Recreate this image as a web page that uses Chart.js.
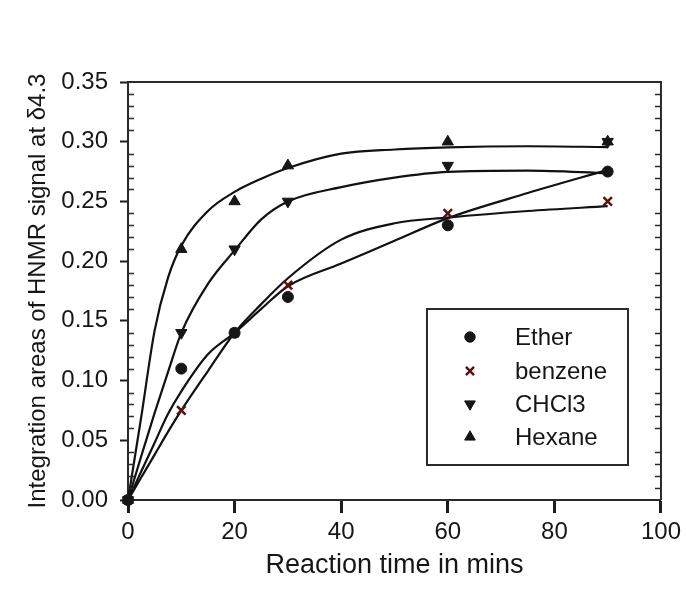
<!DOCTYPE html>
<html>
<head>
<meta charset="utf-8">
<script src="https://cdn.jsdelivr.net/npm/chart.js@4.4.0/dist/chart.umd.min.js"></script>
<style>
  html, body { margin: 0; padding: 0; background: #fff; }
  #wrap { width: 686px; height: 603px; position: relative; }
</style>
</head>
<body>
<div id="wrap"><canvas id="chart"></canvas></div>
<script>
// measured points
const times = [0, 10, 20, 30, 60, 90];
const ether = [0, 0.11, 0.14, 0.17, 0.23, 0.275];
const benzene = [0, 0.075, 0.14, 0.18, 0.24, 0.25];
const chcl3 = [0, 0.14, 0.21, 0.25, 0.28, 0.30];
const hexane = [0, 0.21, 0.25, 0.28, 0.30, 0.30];

// fitted curves
const curveT = [0, 2.5, 5, 7.5, 10, 15, 20, 25, 30, 40, 50, 60, 75, 90];
const etherFit = [0, 0.024, 0.048, 0.072, 0.091, 0.122, 0.140, 0.160, 0.179, 0.198, 0.217, 0.236, 0.257, 0.2764];
const benzeneFit = [0, 0.019, 0.038, 0.057, 0.075, 0.108, 0.140, 0.164, 0.1857, 0.218, 0.2317, 0.2365, 0.242, 0.246];
const chcl3Fit = [0, 0.037, 0.073, 0.107, 0.140, 0.181, 0.209, 0.235, 0.250, 0.262, 0.270, 0.2748, 0.2758, 0.2736];
const hexaneFit = [0, 0.07, 0.142, 0.186, 0.213, 0.242, 0.258, 0.269, 0.278, 0.290, 0.2935, 0.2953, 0.2962, 0.2955];

const labels = ['Ether', 'benzene', 'CHCl3', 'Hexane'];
const xTicks = [0, 20, 40, 60, 80, 100];
const yTicks = [0, 0.05, 0.10, 0.15, 0.20, 0.25, 0.30, 0.35];
const yMinor = [0.01, 0.02, 0.03, 0.04, 0.06, 0.07, 0.08, 0.09, 0.11, 0.12, 0.13, 0.14,
  0.16, 0.17, 0.18, 0.19, 0.21, 0.22, 0.23, 0.24, 0.26, 0.27, 0.28, 0.29, 0.31, 0.32, 0.33, 0.34];

const ink = '#161616';
const FONT = "'Liberation Sans', Arial, sans-serif";

const pts = (xs, ys) => xs.map((x, i) => ({ x: x, y: ys[i] }));

const markers = [
  { pointStyle: 'circle', radius: 5.5, rotation: 0, bg: ink, border: ink, bw: 1 },
  { pointStyle: 'crossRot', radius: 6, rotation: 0, bg: '#5c1010', border: '#5c1010', bw: 2.5 },
  { pointStyle: 'triangle', radius: 6.5, rotation: 180, bg: ink, border: ink, bw: 1 },
  { pointStyle: 'triangle', radius: 6.5, rotation: 0, bg: ink, border: ink, bw: 1 }
];

function curve(ys) {
  return {
    data: pts(curveT, ys),
    borderColor: '#111',
    borderWidth: 2.2,
    pointRadius: 0,
    cubicInterpolationMode: 'monotone',
    fill: false,
    order: 2
  };
}

function scatter(ys, m, label) {
  return {
    label: label,
    data: pts(times, ys),
    showLine: false,
    pointStyle: m.pointStyle,
    pointRadius: m.radius,
    pointRotation: m.rotation,
    pointBackgroundColor: m.bg,
    pointBorderColor: m.border,
    pointBorderWidth: m.bw,
    clip: false,
    order: 1
  };
}

// frame: top/right lines and minor ticks pointing inward
const framePlugin = {
  id: 'frame',
  afterDraw(chart) {
    const { ctx, chartArea: a, scales } = chart;
    ctx.save();
    ctx.strokeStyle = '#2a2a2a';
    ctx.lineWidth = 2;
    ctx.beginPath();
    ctx.moveTo(a.left, a.top);
    ctx.lineTo(a.right, a.top);
    ctx.lineTo(a.right, a.bottom);
    ctx.stroke();
    ctx.lineWidth = 1.6;
    ctx.beginPath();
    yMinor.forEach(v => {
      const y = Math.round(scales.y.getPixelForValue(v)) + 0.5;
      ctx.moveTo(a.left, y); ctx.lineTo(a.left + 6, y);
      ctx.moveTo(a.right, y); ctx.lineTo(a.right - 6, y);
    });
    ctx.stroke();
    ctx.restore();
  }
};

// boxed legend in lower right of the plot
const boxLegend = {
  id: 'boxLegend',
  afterDraw(chart) {
    const { ctx, chartArea: a } = chart;
    const w = 201, h = 156;
    const x0 = a.right - 33 - w, y0 = a.bottom - 35 - h;
    ctx.save();
    ctx.strokeStyle = '#2a2a2a';
    ctx.lineWidth = 2;
    ctx.strokeRect(x0, y0, w, h);
    ctx.font = '24px ' + FONT;
    ctx.textBaseline = 'middle';
    const rows = [28, 62, 95, 128];
    labels.forEach((lab, i) => {
      const m = markers[i];
      const y = y0 + rows[i];
      ctx.fillStyle = m.bg;
      ctx.strokeStyle = m.border;
      ctx.lineWidth = m.bw;
      Chart.helpers.drawPoint(ctx, { pointStyle: m.pointStyle, radius: m.radius * 0.95, rotation: m.rotation, borderWidth: m.bw }, x0 + 43, y);
      ctx.fillStyle = ink;
      ctx.fillText(lab, x0 + 88, y + 1);
    });
    ctx.restore();
  }
};

new Chart(document.getElementById('chart'), {
  type: 'line',
  data: {
    datasets: [
      scatter(ether, markers[0], labels[0]),
      scatter(benzene, markers[1], labels[1]),
      scatter(chcl3, markers[2], labels[2]),
      scatter(hexane, markers[3], labels[3]),
      curve(etherFit),
      curve(benzeneFit),
      curve(chcl3Fit),
      curve(hexaneFit)
    ]
  },
  options: {
    responsive: true,
    maintainAspectRatio: false,
    animation: false,
    layout: { padding: { top: 82, right: 23, left: 0, bottom: 0 } },
    plugins: {
      legend: { display: false },
      tooltip: { enabled: false }
    },
    scales: {
      x: {
        type: 'linear',
        min: 0,
        max: 100,
        afterBuildTicks: s => { s.ticks = xTicks.map(v => ({ value: v })); },
        afterFit: s => { s.height = 103; },
        border: { display: true, color: '#2a2a2a', width: 2 },
        grid: { drawOnChartArea: false, drawTicks: true, tickLength: 13, tickWidth: 3, tickColor: '#1c1c1c' },
        ticks: { color: ink, font: { family: FONT, size: 24 }, padding: 5, maxRotation: 0 },
        title: { display: true, text: 'Reaction time in mins', color: ink, font: { family: FONT, size: 27 }, padding: { top: 0, bottom: 21 } }
      },
      y: {
        type: 'linear',
        min: 0,
        max: 0.35,
        afterBuildTicks: s => { s.ticks = yTicks.map(v => ({ value: v })); },
        afterFit: s => { s.width = 128; },
        border: { display: true, color: '#2a2a2a', width: 2 },
        grid: { drawOnChartArea: false, drawTicks: true, tickLength: 8, tickWidth: 2, tickColor: '#1c1c1c' },
        ticks: { color: ink, font: { family: FONT, size: 24 }, padding: 12, callback: v => v.toFixed(2) },
        title: { display: true, text: 'Integration areas of HNMR signal at δ4.3', color: ink, font: { family: FONT, size: 24 }, padding: { top: 24, bottom: 0 } }
      }
    }
  },
  plugins: [framePlugin, boxLegend]
});
</script>
</body>
</html>
